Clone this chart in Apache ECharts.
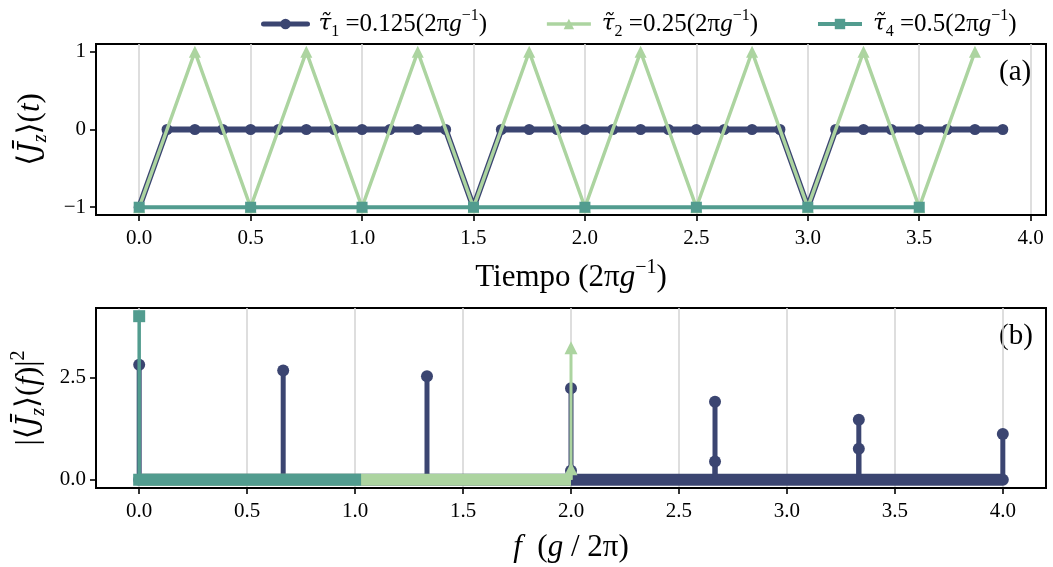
<!DOCTYPE html>
<html>
<head>
<meta charset="utf-8">
<script src="https://cdn.jsdelivr.net/npm/echarts@6/dist/echarts.min.js"></script>
<style>
html,body{margin:0;padding:0;background:#fff;}
#chart{width:1053px;height:567px;}
</style>
</head>
<body>
<div id="chart"></div>
<script>
// ---------- data ----------
const seriesNames = ['tau1', 'tau2', 'tau4'];
// (a) time series
const t1 = [0,0.125,0.25,0.375,0.5,0.625,0.75,0.875,1.0,1.125,1.25,1.375,1.5,1.625,1.75,1.875,2.0,2.125,2.25,2.375,2.5,2.625,2.75,2.875,3.0,3.125,3.25,3.375,3.5,3.625,3.75,3.875];
const v1 = [-1,0,0,0,0,0,0,0,0,0,0,0,-1,0,0,0,0,0,0,0,0,0,0,0,-1,0,0,0,0,0,0,0];
const t2 = [0,0.25,0.5,0.75,1.0,1.25,1.5,1.75,2.0,2.25,2.5,2.75,3.0,3.25,3.5,3.75];
const v2 = [-1,1,-1,1,-1,1,-1,1,-1,1,-1,1,-1,1,-1,1];
const t4 = [0,0.5,1.0,1.5,2.0,2.5,3.0,3.5];
const v4 = [-1,-1,-1,-1,-1,-1,-1,-1];
// (b) spectra: peaks (frequency, |J(f)|^2) and baseline frequency range
const f1 = [0.0, 0.667, 1.333, 2.0, 2.0, 2.667, 2.667, 3.333, 3.333, 4.0];
const p1 = [2.81, 2.67, 2.53, 2.24, 0.22, 1.91, 0.45, 1.47, 0.76, 1.12];
const f1Range = [0, 4.0];
const f2 = [2.0, 2.0];
const p2 = [3.23, 0.27];
const f2Range = [0, 2.0];
const f4 = [0.0];
const p4 = [4.0];
const f4Range = [0, 1.0];
// ticks
const xTicks = [0,0.5,1.0,1.5,2.0,2.5,3.0,3.5,4.0];
const yTicksA = [-1, 0, 1];
const yTicksB = [0, 2.5];

// ---------- style ----------
const C1 = '#3b4571', C2 = '#acd4a0', C4 = '#529c8f';
const FONT = '"Liberation Serif", "DejaVu Serif", serif';
const FONTC = '"DejaVu Serif", serif';
const zip = (a, b) => a.map((x, i) => [x, b[i]]);

function mkRich(base, small, lh, slh) {
  return {
    n: {fontFamily: FONT, fontSize: base, color: '#000', lineHeight: lh},
    i: {fontFamily: FONT, fontSize: base, color: '#000', fontStyle: 'italic', lineHeight: lh},
    c: {fontFamily: FONTC, fontSize: base * 0.92, color: '#000', fontStyle: 'italic', lineHeight: lh},
    sb: {fontFamily: FONT, fontSize: small, color: '#000', verticalAlign: 'bottom', lineHeight: slh},
    sbi: {fontFamily: FONT, fontSize: small, color: '#000', fontStyle: 'italic', verticalAlign: 'bottom', lineHeight: slh},
    sp: {fontFamily: FONT, fontSize: small, color: '#000', verticalAlign: 'top', lineHeight: slh}
  };
}
const richLegend = mkRich(25, 16, 32, 17);
const richBig = mkRich(31, 20, 40, 21);
const legendLabels = {
  tau1: '{c|τ\u0303}{sb|1}{n| =0.125(2π}{i|g}{sp|−1}{n|)}',
  tau2: '{c|τ\u0303}{sb|2}{n| =0.25(2π}{i|g}{sp|−1}{n|)}',
  tau4: '{c|τ\u0303}{sb|4}{n| =0.5(2π}{i|g}{sp|−1}{n|)}'
};

function xAxis(gridIndex, min, max, name, gap) {
  return {
    type: 'value', gridIndex, min, max,
    name, nameLocation: 'middle', nameGap: gap,
    nameTextStyle: {rich: richBig},
    axisLine: {show: true, onZero: false, lineStyle: {color: '#000', width: 2}},
    axisTick: {show: true, customValues: xTicks, length: 6, lineStyle: {color: '#000', width: 1.6}},
    axisLabel: {customValues: xTicks, margin: 13, color: '#000', fontFamily: FONT, fontSize: 21,
      formatter: v => v.toFixed(1)},
    splitLine: {show: true, lineStyle: {color: '#d6d6d6', width: 1.6}}
  };
}
function yAxis(gridIndex, min, max, ticks, fmt, name, gap) {
  return {
    type: 'value', gridIndex, min, max,
    name, nameLocation: 'middle', nameGap: gap, nameRotate: 90,
    nameTextStyle: {rich: richBig},
    axisLine: {show: true, onZero: false, lineStyle: {color: '#000', width: 2}},
    axisTick: {show: true, customValues: ticks, length: 6, lineStyle: {color: '#000', width: 1.6}},
    axisLabel: {customValues: ticks, margin: 10, color: '#000', fontFamily: FONT, fontSize: 21, formatter: fmt},
    splitLine: {show: false}
  };
}

function stems(data, color, width, z) {
  return {
    type: 'custom', xAxisIndex: 1, yAxisIndex: 1, z, silent: true,
    encode: {x: 0, y: 1},
    renderItem: (params, api) => {
      const p0 = api.coord([api.value(0), 0]);
      const p1c = api.coord([api.value(0), api.value(1)]);
      return {type: 'line', shape: {x1: p0[0], y1: p0[1], x2: p1c[0], y2: p1c[1]},
        style: {stroke: color, lineWidth: width}};
    },
    data
  };
}
function baseline(range, color, cap, z) {
  return {
    type: 'line', xAxisIndex: 1, yAxisIndex: 1, z, silent: true, symbol: 'none',
    data: [[range[0], 0], [range[1], 0]],
    lineStyle: {color, width: 12, cap}
  };
}
function markers(data, color, symbol, size, z) {
  return {
    type: 'scatter', xAxisIndex: 1, yAxisIndex: 1, z, silent: true,
    symbol, symbolSize: size, itemStyle: {color, opacity: 1},
    data
  };
}

const option = {
  animation: false,
  backgroundColor: '#fff',
  legend: {
    data: [
      {name: seriesNames[0], lineStyle: {width: 5}},
      {name: seriesNames[1], lineStyle: {width: 3.5}},
      {name: seriesNames[2], lineStyle: {width: 4}}
    ],
    left: 256, top: 3, itemWidth: 44, itemHeight: 13, itemGap: 58,
    formatter: n => legendLabels[n],
    textStyle: {rich: richLegend, padding: [0, 0, 0, 6]}
  },
  grid: [
    {left: 96, width: 950, top: 44, height: 171, show: true, borderColor: '#000', borderWidth: 2},
    {left: 96, width: 950, top: 308, height: 180, show: true, borderColor: '#000', borderWidth: 2}
  ],
  xAxis: [
    xAxis(0, -0.19375, 4.06875, '{n|Tiempo (2π}{i|g}{sp|−1}{n|)}', 43),
    xAxis(1, -0.2, 4.2, '{i|f}{n|  (}{i|g}{n| / 2π)}', 40)
  ],
  yAxis: [
    yAxis(0, -1.1, 1.1, yTicksA, v => String(v).replace('-', '−'),
      '{n|⟨}{c|J\u0304}{sbi|z}{n|⟩(}{i|t}{n|)}', 45),
    yAxis(1, -0.2, 4.2, yTicksB, v => v.toFixed(1),
      '{n|\u007C⟨}{c|J\u0304}{sbi|z}{n|⟩(}{i|f}{n|)\u007C}{sp|2}', 46)
  ],
  graphic: [
    {type: 'text', left: 999, top: 58, style: {text: '(a)', font: '29px ' + FONT, fill: '#000'}},
    {type: 'text', left: 999, top: 322, style: {text: '(b)', font: '29px ' + FONT, fill: '#000'}}
  ],
  series: [
    {name: 'tau1', type: 'line', xAxisIndex: 0, yAxisIndex: 0, z: 2, data: zip(t1, v1),
      symbol: 'circle', symbolSize: 11, itemStyle: {color: C1},
      lineStyle: {color: C1, width: 6, cap: 'round', join: 'round'}},
    {name: 'tau2', type: 'line', xAxisIndex: 0, yAxisIndex: 0, z: 3, data: zip(t2, v2),
      symbol: 'triangle', symbolSize: 12, itemStyle: {color: C2},
      lineStyle: {color: C2, width: 3.5, join: 'round'}},
    {name: 'tau4', type: 'line', xAxisIndex: 0, yAxisIndex: 0, z: 4, data: zip(t4, v4),
      symbol: 'rect', symbolSize: 11, itemStyle: {color: C4},
      lineStyle: {color: C4, width: 4}},

    baseline(f1Range, C1, 'round', 5),
    stems(zip(f1, p1), C1, 5, 6),
    markers(zip(f1, p1), C1, 'circle', 12, 7),
    baseline(f2Range, C2, 'butt', 8),
    stems(zip(f2, p2), C2, 3, 9),
    markers(zip(f2, p2), C2, 'triangle', 13, 10),
    baseline(f4Range, C4, 'square', 11),
    stems(zip(f4, p4), C4, 3.5, 12),
    markers(zip(f4, p4), C4, 'rect', 12, 13)
  ]
};
const chart = echarts.init(document.getElementById('chart'), null, {renderer: 'canvas'});
chart.setOption(option);
</script>
</body>
</html>
